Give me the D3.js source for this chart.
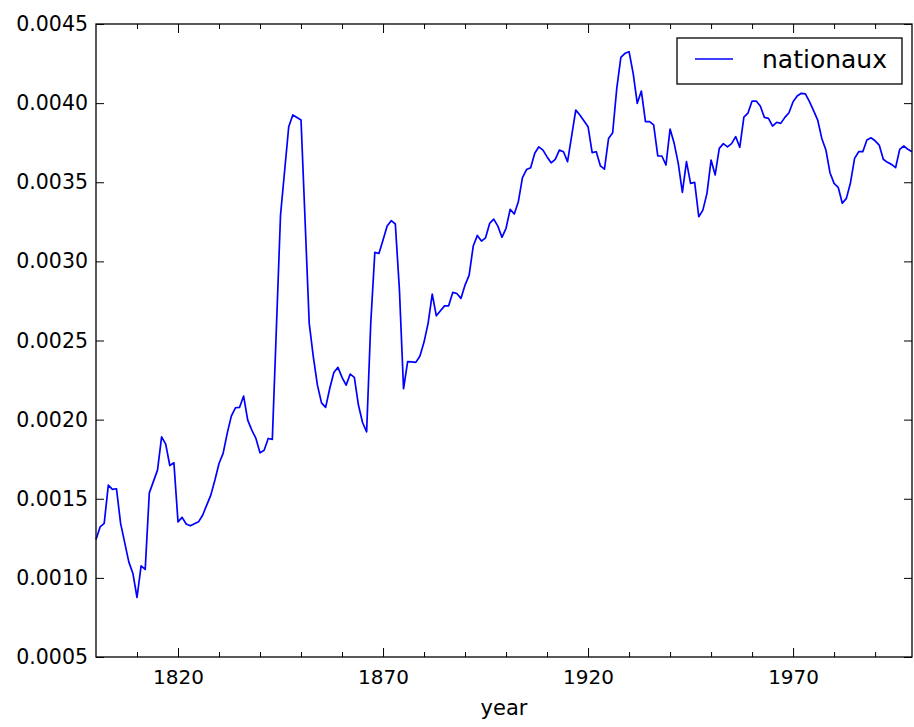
<!DOCTYPE html>
<html>
<head>
<meta charset="utf-8">
<script src="https://cdn.jsdelivr.net/npm/d3@7"></script>
<style>
  html, body { margin: 0; padding: 0; background: #fff; }
  svg { display: block; font-family: "DejaVu Sans", sans-serif; }
</style>
</head>
<body>
<svg id="chart" width="914" height="727"></svg>
<script>
const seriesName = "nationaux";

const years = [
  1800, 1801, 1802, 1803, 1804, 1805, 1806, 1808, 1809, 1810,
  1811, 1812, 1813, 1815, 1816, 1817, 1818, 1819, 1820, 1821,
  1822, 1823, 1825, 1826, 1827, 1828, 1829, 1830, 1831, 1832,
  1833, 1834, 1835, 1836, 1837, 1838, 1839, 1840, 1841, 1842,
  1843, 1845, 1847, 1848, 1850, 1852, 1853, 1854, 1855, 1856,
  1857, 1858, 1859, 1860, 1861, 1862, 1863, 1864, 1865, 1866,
  1867, 1868, 1869, 1870, 1871, 1872, 1873, 1874, 1875, 1876,
  1877, 1878, 1879, 1880, 1881, 1882, 1883, 1884, 1885, 1886,
  1887, 1888, 1889, 1890, 1891, 1892, 1893, 1894, 1895, 1896,
  1897, 1898, 1899, 1900, 1901, 1902, 1903, 1904, 1905, 1906,
  1907, 1908, 1909, 1910, 1911, 1912, 1913, 1914, 1915, 1917,
  1918, 1920, 1921, 1922, 1923, 1924, 1925, 1926, 1927, 1928,
  1929, 1930, 1931, 1932, 1933, 1934, 1935, 1936, 1937, 1938,
  1939, 1940, 1941, 1942, 1943, 1944, 1945, 1946, 1947, 1948,
  1949, 1950, 1951, 1952, 1953, 1954, 1955, 1956, 1957, 1958,
  1959, 1960, 1961, 1962, 1963, 1964, 1965, 1966, 1967, 1968,
  1969, 1970, 1971, 1972, 1973, 1974, 1975, 1976, 1977, 1978,
  1979, 1980, 1981, 1982, 1983, 1984, 1985, 1986, 1987, 1988,
  1989, 1990, 1991, 1992, 1993, 1994, 1995, 1996, 1997, 1998,
  1999
];

const values = [
  0.001243, 0.001322, 0.001344, 0.001586, 0.001559, 0.001563, 0.001344, 0.001101, 0.001028, 0.000876,
  0.001076, 0.001053, 0.001537, 0.001681, 0.001891, 0.001845, 0.001710, 0.001727, 0.001354, 0.001382,
  0.001340, 0.001329, 0.001354, 0.001396, 0.001460, 0.001523, 0.001618, 0.001723, 0.001787, 0.001913,
  0.002022, 0.002075, 0.002077, 0.002149, 0.001997, 0.001934, 0.001881, 0.001790, 0.001807, 0.001881,
  0.001875, 0.003293, 0.003851, 0.003925, 0.003893, 0.002608, 0.002397, 0.002218, 0.002106, 0.002077,
  0.002197, 0.002298, 0.002330, 0.002267, 0.002218, 0.002288, 0.002267, 0.002092, 0.001982, 0.001923,
  0.002608, 0.003057, 0.003050, 0.003135, 0.003223, 0.003257, 0.003236, 0.002819, 0.002195, 0.002367,
  0.002365, 0.002362, 0.002402, 0.002490, 0.002610, 0.002793, 0.002656, 0.002688, 0.002719, 0.002719,
  0.002804, 0.002797, 0.002766, 0.002850, 0.002913, 0.003097, 0.003164, 0.003128, 0.003149, 0.003240,
  0.003267, 0.003223, 0.003152, 0.003209, 0.003329, 0.003299, 0.003377, 0.003529, 0.003580, 0.003592,
  0.003683, 0.003724, 0.003703, 0.003660, 0.003623, 0.003645, 0.003703, 0.003693, 0.003630, 0.003956,
  0.003925, 0.003851, 0.003687, 0.003693, 0.003604, 0.003583, 0.003777, 0.003813, 0.004093, 0.004289,
  0.004315, 0.004325, 0.004188, 0.003999, 0.004076, 0.003883, 0.003883, 0.003862, 0.003666, 0.003666,
  0.003609, 0.003836, 0.003746, 0.003619, 0.003436, 0.003630, 0.003493, 0.003499, 0.003282, 0.003324,
  0.003430, 0.003640, 0.003546, 0.003714, 0.003744, 0.003724, 0.003744, 0.003788, 0.003721, 0.003911,
  0.003937, 0.004013, 0.004013, 0.003982, 0.003910, 0.003904, 0.003855, 0.003879, 0.003872, 0.003910,
  0.003939, 0.004009, 0.004045, 0.004062, 0.004058, 0.004009, 0.003952, 0.003893, 0.003777, 0.003704,
  0.003560, 0.003493, 0.003468, 0.003367, 0.003398, 0.003497, 0.003651, 0.003693, 0.003693, 0.003767,
  0.003781, 0.003762, 0.003735, 0.003645, 0.003626, 0.003613, 0.003592, 0.003708, 0.003729, 0.003708,
  0.003693
];

const xMajorTicks = [1820, 1870, 1920, 1970];
const xMinorTicks = [1810, 1830, 1840, 1850, 1860, 1880, 1890, 1900, 1910, 1930, 1940, 1950, 1960, 1980, 1990];
const yTicks = [0.0005, 0.0010, 0.0015, 0.0020, 0.0025, 0.0030, 0.0035, 0.0040, 0.0045];

const margin = { top: 24, right: 2, bottom: 70, left: 96 };
const svg = d3.select("#chart");
const width = 914 - margin.left - margin.right;
const height = 727 - margin.top - margin.bottom;

const g = svg.append("g").attr("transform", `translate(${margin.left}, ${margin.top})`);

const x = d3.scaleLinear().domain([1800, 1999]).range([0, width]);
const y = d3.scaleLinear().domain([0.0005, 0.0045]).range([height, 0]);

// line
const data = years.map((yr, i) => ({ year: yr, value: values[i] }));
const line = d3.line().x(d => x(d.year)).y(d => y(d.value));

g.append("path")
  .datum(data)
  .attr("fill", "none")
  .attr("stroke", "#0000ff")
  .attr("stroke-width", 1.7)
  .attr("stroke-linejoin", "round")
  .attr("d", line);

// axes (matplotlib classic look: inward ticks on all sides)
const fmtY = d3.format(".4f");

const xBottom = g.append("g")
  .attr("transform", `translate(0, ${height})`)
  .call(d3.axisBottom(x).tickValues(xMajorTicks).tickFormat(d3.format("d")).tickSizeInner(-9).tickSizeOuter(0).tickPadding(13));
const xBottomMinor = g.append("g")
  .attr("transform", `translate(0, ${height})`)
  .call(d3.axisBottom(x).tickValues(xMinorTicks).tickFormat("").tickSizeInner(-5).tickSizeOuter(0));
const xTop = g.append("g")
  .call(d3.axisTop(x).tickValues(xMajorTicks).tickFormat("").tickSizeInner(-9).tickSizeOuter(0));
const xTopMinor = g.append("g")
  .call(d3.axisTop(x).tickValues(xMinorTicks).tickFormat("").tickSizeInner(-5).tickSizeOuter(0));

const yLeft = g.append("g")
  .call(d3.axisLeft(y).tickValues(yTicks).tickFormat(fmtY).tickSizeInner(-8).tickSizeOuter(0).tickPadding(8));
const yRight = g.append("g")
  .attr("transform", `translate(${width}, 0)`)
  .call(d3.axisRight(y).tickValues(yTicks).tickFormat("").tickSizeInner(-8).tickSizeOuter(0));

[xBottom, xBottomMinor, xTop, xTopMinor, yLeft, yRight].forEach(ax => {
  ax.select(".domain").remove();
  ax.selectAll("line").attr("stroke", "#000").attr("stroke-width", 1);
  ax.selectAll("text").attr("fill", "#000").style("font-family", "DejaVu Sans");
});
xBottom.selectAll("text").style("font-size", "20px");
yLeft.selectAll("text").style("font-size", "20.5px");

// frame
g.append("rect")
  .attr("x", 0).attr("y", 0)
  .attr("width", width).attr("height", height)
  .attr("fill", "none")
  .attr("stroke", "#000")
  .attr("stroke-width", 1.3);

// x label
g.append("text")
  .attr("x", width / 2)
  .attr("y", height + 58)
  .attr("text-anchor", "middle")
  .style("font-size", "21px")
  .text("year");

// legend
const legend = g.append("g").attr("transform", `translate(${width - 235}, 14)`);
legend.append("rect")
  .attr("x", 0).attr("y", 0)
  .attr("width", 225).attr("height", 46)
  .attr("fill", "#fff")
  .attr("stroke", "#000")
  .attr("stroke-width", 1.3);
legend.append("line")
  .attr("x1", 18).attr("x2", 56)
  .attr("y1", 21).attr("y2", 21)
  .attr("stroke", "#0000ff")
  .attr("stroke-width", 1.7);
legend.append("text")
  .attr("x", 85)
  .attr("y", 30)
  .style("font-size", "25px")
  .text(seriesName);
</script>
</body>
</html>
